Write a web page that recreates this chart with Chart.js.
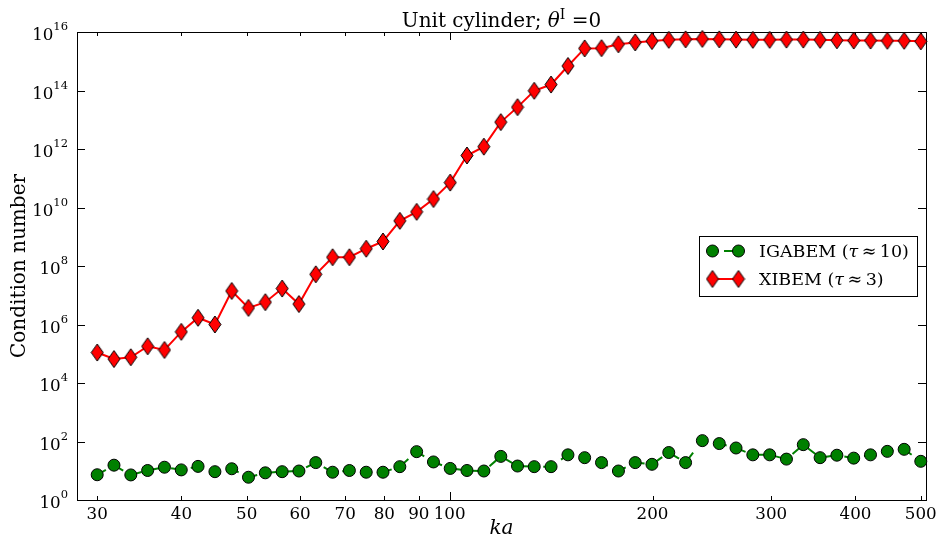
<!DOCTYPE html>
<html>
<head>
<meta charset="utf-8">
<script src="https://cdn.jsdelivr.net/npm/chart.js@4.4.0/dist/chart.umd.min.js"></script>
<style>
  body { margin: 0; background: #fff; }
  canvas { display: block; }
</style>
</head>
<body>
<canvas id="chart" width="941" height="540"></canvas>
<script>
const ka = [30.0, 31.77, 33.65, 35.64, 37.75, 39.98, 42.34, 44.85, 47.5, 50.3,
  53.28, 56.43, 59.76, 63.3, 67.04, 71.0, 75.2, 79.64, 84.35, 89.34,
  94.62, 100.2, 106.1, 112.4, 119.1, 126.1, 133.5, 141.4, 149.8, 158.6,
  168.0, 178.0, 188.5, 199.6, 211.4, 223.9, 237.1, 251.2, 266.0, 281.7,
  298.4, 316.0, 334.7, 354.5, 375.4, 397.6, 421.1, 446.0, 472.4, 500.0];

const igabem = [7.3, 15.5, 7.2, 10.2, 13.2, 10.7, 14.1, 9.3, 11.7, 6.0,
  8.5, 9.3, 9.8, 19, 8.9, 10.2, 8.9, 8.9, 13.8, 45,
  20, 12, 10.2, 9.8, 31, 14.5, 13.8, 13.8, 35, 28,
  19, 9.8, 19, 16.6, 42, 19, 107, 85, 60, 35,
  35, 25, 78, 28, 34, 27, 35, 46, 54, 21];

const xibem = [1.1e5, 6.6e4, 7.6e4, 1.8e5, 1.35e5, 5.6e5, 1.7e6, 1.0e6, 1.4e7, 3.7e6,
  5.8e6, 1.7e7, 5.0e6, 5.2e7, 2.0e8, 2.0e8, 3.9e8, 6.9e8, 3.5e9, 7.1e9,
  1.95e10, 7.1e10, 6.0e11, 1.2e12, 8.3e12, 2.7e13, 9.8e13, 1.6e14, 6.9e14, 2.75e15,
  2.8e15, 3.8e15, 4.4e15, 4.9e15, 5.4e15, 5.6e15, 5.8e15, 5.6e15, 5.5e15, 5.4e15,
  5.4e15, 5.5e15, 5.5e15, 5.4e15, 5.2e15, 5.1e15, 5.1e15, 5.0e15, 5.0e15, 4.8e15];

const xTicks = [30, 40, 50, 60, 70, 80, 90, 100, 200, 300, 400, 500];
const xMajor = [100];
const yExponents = [0, 2, 4, 6, 8, 10, 12, 14, 16];

const SERIF = '"DejaVu Serif", serif';
const TICK_PX = 16.7;
const LEGEND_PX = 17.5;
const LABEL_PX = 20;

// thin diamond marker, matplotlib style
function makeDiamond(w, h, fill) {
  const c = document.createElement('canvas');
  c.width = w + 2;
  c.height = h + 2;
  const g = c.getContext('2d');
  const cx = c.width / 2, cy = c.height / 2;
  g.beginPath();
  g.moveTo(cx, cy - h / 2);
  g.lineTo(cx + w / 2, cy);
  g.lineTo(cx, cy + h / 2);
  g.lineTo(cx - w / 2, cy);
  g.closePath();
  g.fillStyle = fill;
  g.fill();
  g.strokeStyle = '#000';
  g.lineWidth = 1;
  g.stroke();
  return c;
}
const diamond = makeDiamond(12, 17, '#ff0000');

// draw a row of text runs (font, text, vertical shift)
function drawRuns(ctx, runs, x, y, align) {
  let total = 0;
  runs.forEach(r => { ctx.font = r.font; r.w = ctx.measureText(r.text).width; total += r.w; });
  let cx = align === 'center' ? x - total / 2 : align === 'right' ? x - total : x;
  ctx.textAlign = 'left';
  ctx.textBaseline = 'alphabetic';
  runs.forEach(r => {
    ctx.font = r.font;
    ctx.fillText(r.text, cx, y + (r.dy || 0));
    cx += r.w;
  });
}

const axesDecor = {
  id: 'axesDecor',
  beforeDatasetsDraw(chart) {
    const { ctx, chartArea: a, scales: { x, y } } = chart;
    ctx.save();
    ctx.strokeStyle = '#000';
    ctx.lineWidth = 1;
    ctx.strokeRect(a.left + 0.5, a.top + 0.5, a.right - a.left, a.bottom - a.top);
    ctx.beginPath();
    xTicks.forEach(v => {
      const px = Math.round(x.getPixelForValue(v)) + 0.5;
      const len = xMajor.includes(v) ? 8 : 4;
      ctx.moveTo(px, a.bottom); ctx.lineTo(px, a.bottom - len);
      ctx.moveTo(px, a.top); ctx.lineTo(px, a.top + len);
    });
    yExponents.forEach(e => {
      const py = Math.round(y.getPixelForValue(Math.pow(10, e))) + 0.5;
      ctx.moveTo(a.left, py); ctx.lineTo(a.left + 8, py);
      ctx.moveTo(a.right, py); ctx.lineTo(a.right - 8, py);
    });
    ctx.stroke();
    ctx.restore();
  },
  afterDraw(chart) {
    const { ctx, chartArea: a, scales: { x, y } } = chart;
    ctx.save();
    ctx.fillStyle = '#000';

    // x tick labels
    ctx.font = TICK_PX + 'px ' + SERIF;
    ctx.textAlign = 'center';
    ctx.textBaseline = 'alphabetic';
    xTicks.forEach(v => {
      ctx.fillText(String(v), x.getPixelForValue(v), a.bottom + 19);
    });

    // y tick labels as powers of ten
    yExponents.forEach(e => {
      const py = y.getPixelForValue(Math.pow(10, e));
      drawRuns(ctx, [
        { text: '10', font: TICK_PX + 'px ' + SERIF },
        { text: String(e), font: '11.5px ' + SERIF, dy: -10 }
      ], a.left - 9, py + 8, 'right');
    });

    // axis labels
    ctx.font = 'italic ' + LABEL_PX + 'px ' + SERIF;
    ctx.textAlign = 'center';
    ctx.fillText('ka', (a.left + a.right) / 2, 534);

    ctx.save();
    ctx.translate(25, (a.top + a.bottom) / 2);
    ctx.rotate(-Math.PI / 2);
    ctx.font = LABEL_PX + 'px ' + SERIF;
    ctx.textAlign = 'center';
    ctx.fillText('Condition number', 0, 0);
    ctx.restore();

    // title
    drawRuns(ctx, [
      { text: 'Unit cylinder; ', font: LABEL_PX + 'px ' + SERIF },
      { text: 'θ', font: 'italic ' + LABEL_PX + 'px ' + SERIF },
      { text: 'I', font: '14px ' + SERIF, dy: -8 },
      { text: ' =0', font: LABEL_PX + 'px ' + SERIF }
    ], (a.left + a.right) / 2, 26.5, 'center');

    // legend, centre right
    const ds = chart.data.datasets;
    const bw = 218, bh = 60;
    const bx = a.right - 9 - bw;
    const by = (a.top + a.bottom) / 2 - bh / 2;
    ctx.fillStyle = '#fff';
    ctx.fillRect(bx, by, bw, bh);
    ctx.strokeStyle = '#000';
    ctx.lineWidth = 1;
    ctx.strokeRect(Math.round(bx) + 0.5, Math.round(by) + 0.5, bw, bh);

    const rows = [
      { d: ds[0], label: [{ text: 'IGABEM (', f: '' }, { text: 'τ', f: 'italic ' }, { text: '\u2009≈\u200910)', f: '' }] },
      { d: ds[1], label: [{ text: 'XIBEM (', f: '' }, { text: 'τ', f: 'italic ' }, { text: '\u2009≈\u20093)', f: '' }] }
    ];
    rows.forEach((r, i) => {
      const cy = by + 15 + i * 28;
      const m1 = bx + 13.5, m2 = bx + 39.5;
      ctx.save();
      ctx.strokeStyle = r.d.borderColor;
      ctx.lineWidth = r.d.borderWidth;
      ctx.setLineDash(r.d.borderDash || []);
      ctx.lineDashOffset = 8.5;
      ctx.beginPath();
      ctx.moveTo(m1, cy); ctx.lineTo(m2, cy);
      ctx.stroke();
      ctx.restore();
      [m1, m2].forEach(mx => {
        if (r.d.pointStyle === 'circle') {
          ctx.beginPath();
          ctx.arc(mx, cy, r.d.pointRadius, 0, Math.PI * 2);
          ctx.fillStyle = r.d.pointBackgroundColor;
          ctx.fill();
          ctx.strokeStyle = '#000';
          ctx.lineWidth = 1;
          ctx.stroke();
        } else {
          ctx.drawImage(r.d.pointStyle, mx - r.d.pointStyle.width / 2, cy - r.d.pointStyle.height / 2);
        }
      });
      ctx.fillStyle = '#000';
      drawRuns(ctx, r.label.map(p => ({ text: p.text, font: p.f + LEGEND_PX + 'px ' + SERIF })),
        bx + 60, cy + 6, 'left');
    });
    ctx.restore();
  }
};

const ctx = document.getElementById('chart').getContext('2d');
new Chart(ctx, {
  type: 'line',
  data: {
    datasets: [
      {
        label: 'IGABEM (τ≈10)',
        data: ka.map((k, i) => ({ x: k, y: igabem[i] })),
        borderColor: '#008000',
        borderWidth: 2,
        borderDash: [10, 10],
        pointStyle: 'circle',
        pointRadius: 6,
        pointBackgroundColor: '#008000',
        pointBorderColor: '#000',
        pointBorderWidth: 1,
        tension: 0,
        clip: false
      },
      {
        label: 'XIBEM (τ≈3)',
        data: ka.map((k, i) => ({ x: k, y: xibem[i] })),
        borderColor: '#ff0000',
        borderWidth: 2,
        pointStyle: diamond,
        pointRadius: 8,
        pointBackgroundColor: '#ff0000',
        pointBorderColor: '#000',
        tension: 0,
        clip: false
      }
    ]
  },
  options: {
    responsive: false,
    animation: false,
    devicePixelRatio: 1,
    layout: { padding: { left: 77, right: 15, top: 32, bottom: 40 } },
    scales: {
      x: { type: 'logarithmic', min: 28, max: 509, display: false },
      y: { type: 'logarithmic', min: 1, max: 1e16, display: false }
    },
    plugins: {
      legend: { display: false },
      tooltip: { enabled: false }
    }
  },
  plugins: [axesDecor]
});
</script>
</body>
</html>
